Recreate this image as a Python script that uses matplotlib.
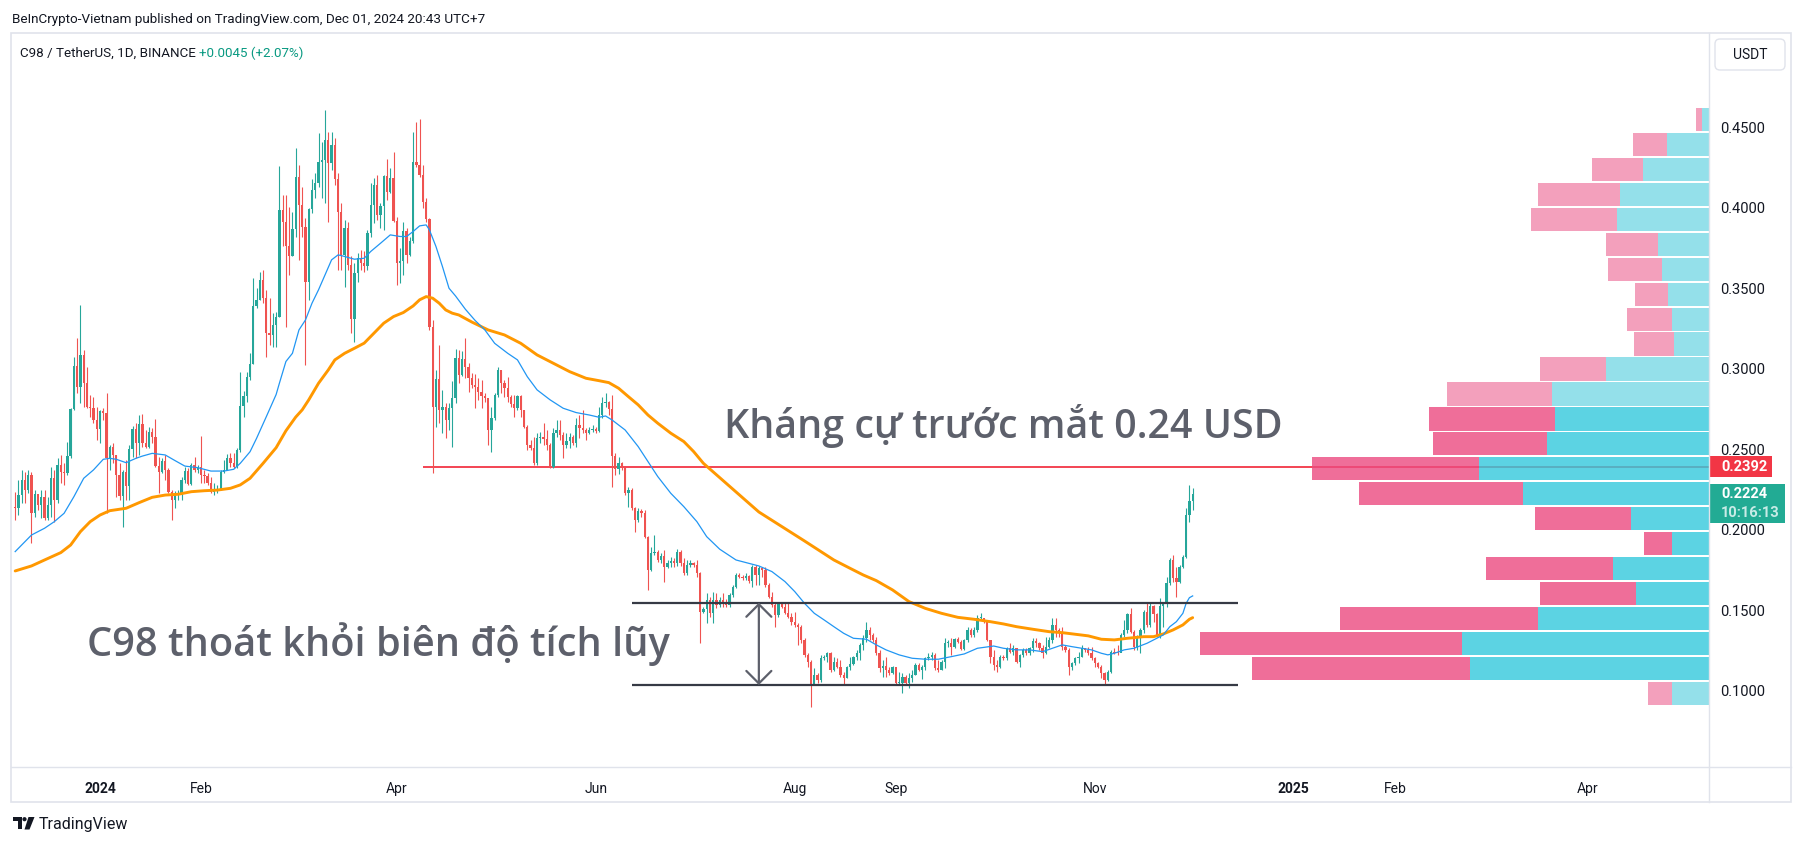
import numpy as np
import pandas as pd
import matplotlib
matplotlib.use("Agg")
import matplotlib.pyplot as plt
import matplotlib.dates as mdates
import matplotlib.transforms as mtransforms
from matplotlib.patches import Rectangle, FancyBboxPatch, Polygon, Circle
from matplotlib.lines import Line2D

plt.rcParams['font.family'] = ['Roboto', 'DejaVu Sans']

# === C98 / USDT daily candles, 2023-12-06 .. 2024-12-01 (open = previous close) ===
first_open = 0.2140

close_dec = [0.2134, 0.2216, 0.2310, 0.2247, 0.2341, 0.2103, 0.2223, 0.2154, 0.2206, 0.2072, 0.2154, 0.2320, 0.2185,
             0.2403, 0.2361, 0.2351, 0.2458, 0.2748, 0.3017, 0.2889, 0.3085, 0.2914, 0.2761, 0.2756, 0.2682, 0.2624]
high_dec = [0.2237, 0.2310, 0.2372, 0.2361, 0.2372, 0.2361, 0.2247, 0.2185, 0.2247, 0.2247, 0.2206, 0.2392, 0.2372,
            0.2444, 0.2465, 0.2413, 0.2543, 0.2754, 0.3071, 0.3189, 0.3396, 0.3116, 0.3013, 0.2837, 0.2827, 0.2765]
low_dec = [0.2061, 0.2092, 0.2165, 0.2165, 0.2231, 0.1916, 0.2082, 0.2123, 0.2072, 0.2061, 0.2061, 0.2082, 0.2051,
           0.2165, 0.2289, 0.2279, 0.2341, 0.2444, 0.2744, 0.2847, 0.2785, 0.2765, 0.2754, 0.2703, 0.2661, 0.2558]

close_jan = [0.2738, 0.2723, 0.2444, 0.2516, 0.2465, 0.2341, 0.2210, 0.2361, 0.2272, 0.2502, 0.2626, 0.2537, 0.2657,
             0.2537, 0.2516, 0.2605, 0.2579, 0.2399, 0.2361, 0.2428, 0.2372, 0.2237, 0.2185, 0.2216, 0.2227, 0.2310,
             0.2365, 0.2283, 0.2403, 0.2372, 0.2392]
high_jan = [0.2744, 0.2754, 0.2847, 0.2527, 0.2537, 0.2465, 0.2413, 0.2372, 0.2434, 0.2527, 0.2645, 0.2661, 0.2711,
            0.2719, 0.2620, 0.2641, 0.2630, 0.2686, 0.2454, 0.2444, 0.2465, 0.2382, 0.2247, 0.2243, 0.2247, 0.2330,
            0.2392, 0.2382, 0.2417, 0.2454, 0.2403]
low_jan = [0.2541, 0.2682, 0.2103, 0.2372, 0.2413, 0.2206, 0.2185, 0.2020, 0.2185, 0.2185, 0.2454, 0.2444, 0.2465,
           0.2516, 0.2506, 0.2506, 0.2537, 0.2392, 0.2227, 0.2351, 0.2310, 0.2231, 0.2061, 0.2134, 0.2185, 0.2185,
           0.2289, 0.2279, 0.2279, 0.2361, 0.2351]

close_feb = [0.2341, 0.2334, 0.2289, 0.2237, 0.2243, 0.2247, 0.2361, 0.2372, 0.2444, 0.2413, 0.2392, 0.2496, 0.2769,
             0.2831, 0.2947, 0.3027, 0.3390, 0.3427, 0.3551, 0.3437, 0.3220, 0.3210, 0.3272, 0.3323, 0.3986, 0.3914,
             0.3759, 0.3703, 0.3866]
high_feb = [0.2583, 0.2372, 0.2351, 0.2330, 0.2289, 0.2279, 0.2372, 0.2434, 0.2469, 0.2475, 0.2475, 0.2506, 0.2982,
            0.2864, 0.2982, 0.3096, 0.3561, 0.3500, 0.3600, 0.3613, 0.3489, 0.3437, 0.3344, 0.3354, 0.4259, 0.4079,
            0.4079, 0.4007, 0.3976]
low_feb = [0.2289, 0.2289, 0.2279, 0.2231, 0.2216, 0.2231, 0.2247, 0.2355, 0.2372, 0.2392, 0.2382, 0.2382, 0.2485,
           0.2703, 0.2796, 0.2930, 0.3027, 0.3375, 0.3427, 0.3406, 0.3075, 0.3147, 0.3137, 0.3137, 0.3324, 0.3759,
           0.3258, 0.3583, 0.3697]

close_mar = [0.4189, 0.4017, 0.3879, 0.3541, 0.3990, 0.4110, 0.4152, 0.4286, 0.4297, 0.4421, 0.4280, 0.4390, 0.4176,
             0.3976, 0.3707, 0.3872, 0.3645, 0.3308, 0.3597, 0.3686, 0.3655, 0.3639, 0.3841, 0.4017, 0.4141, 0.3955,
             0.4011, 0.4197, 0.4100, 0.4183, 0.3920]
high_mar = [0.4369, 0.4265, 0.4131, 0.3934, 0.3996, 0.4176, 0.4214, 0.4462, 0.4410, 0.4607, 0.4472, 0.4472, 0.4431,
            0.4214, 0.4028, 0.3924, 0.3914, 0.3697, 0.3655, 0.3717, 0.3738, 0.3728, 0.3862, 0.4152, 0.4183, 0.4203,
            0.4028, 0.4203, 0.4301, 0.4245, 0.4348]
low_mar = [0.3821, 0.3676, 0.3821, 0.3024, 0.3428, 0.3965, 0.4059, 0.4131, 0.4059, 0.4028, 0.3914, 0.4234, 0.4141,
           0.3614, 0.3614, 0.3510, 0.3614, 0.3225, 0.3169, 0.3541, 0.3614, 0.3603, 0.3614, 0.3821, 0.3903, 0.3924,
           0.3872, 0.3862, 0.4048, 0.4090, 0.3914]

close_apr = [0.3655, 0.3672, 0.3858, 0.3707, 0.3790, 0.4286, 0.4265, 0.4203, 0.4038, 0.3928, 0.3258, 0.2765, 0.2935,
             0.2741, 0.2761, 0.2683, 0.2755, 0.2817, 0.3066, 0.2962, 0.3059, 0.3013, 0.2941, 0.2900, 0.2889, 0.2858,
             0.2831, 0.2817, 0.2620, 0.2693]
high_apr = [0.3945, 0.3748, 0.3914, 0.3872, 0.3821, 0.4472, 0.4534, 0.4549, 0.4265, 0.4059, 0.3934, 0.3303, 0.2993,
            0.3148, 0.2869, 0.2786, 0.2786, 0.2921, 0.3121, 0.3117, 0.3113, 0.3189, 0.3034, 0.2972, 0.2968, 0.2941,
            0.2931, 0.2848, 0.2776, 0.2765]
low_apr = [0.3521, 0.3531, 0.3583, 0.3655, 0.3701, 0.3779, 0.4255, 0.4193, 0.3996, 0.3914, 0.3241, 0.2356, 0.2641,
           0.2662, 0.2600, 0.2569, 0.2621, 0.2517, 0.2786, 0.2910, 0.2955, 0.2941, 0.2858, 0.2879, 0.2755, 0.2806,
           0.2755, 0.2796, 0.2527, 0.2486]

close_may = [0.2838, 0.2993, 0.2910, 0.2879, 0.2827, 0.2782, 0.2755, 0.2831, 0.2744, 0.2641, 0.2527, 0.2506, 0.2413,
             0.2569, 0.2575, 0.2562, 0.2527, 0.2393, 0.2600, 0.2620, 0.2589, 0.2527, 0.2554, 0.2579, 0.2538, 0.2651,
             0.2631, 0.2620, 0.2600, 0.2620, 0.2624]
high_may = [0.2848, 0.3013, 0.2993, 0.2931, 0.2951, 0.2838, 0.2838, 0.2838, 0.2838, 0.2744, 0.2651, 0.2558, 0.2579,
            0.2600, 0.2610, 0.2662, 0.2620, 0.2538, 0.2631, 0.2682, 0.2682, 0.2610, 0.2600, 0.2600, 0.2589, 0.2693,
            0.2713, 0.2744, 0.2631, 0.2641, 0.2651]
low_may = [0.2682, 0.2827, 0.2848, 0.2827, 0.2796, 0.2765, 0.2703, 0.2744, 0.2703, 0.2631, 0.2496, 0.2496, 0.2403,
           0.2403, 0.2538, 0.2527, 0.2496, 0.2382, 0.2382, 0.2579, 0.2558, 0.2444, 0.2506, 0.2506, 0.2527, 0.2517,
           0.2569, 0.2600, 0.2558, 0.2596, 0.2610]

close_jun = [0.2616, 0.2713, 0.2786, 0.2796, 0.2749, 0.2459, 0.2376, 0.2418, 0.2382, 0.2227, 0.2248, 0.2134, 0.2062,
             0.2120, 0.2107, 0.1958, 0.1751, 0.1859, 0.1865, 0.1813, 0.1838, 0.1772, 0.1793, 0.1809, 0.1793, 0.1865,
             0.1793, 0.1731, 0.1782, 0.1797]
high_jun = [0.2641, 0.2765, 0.2827, 0.2848, 0.2802, 0.2838, 0.2475, 0.2455, 0.2424, 0.2393, 0.2269, 0.2258, 0.2144,
            0.2134, 0.2128, 0.2124, 0.1962, 0.1896, 0.1969, 0.1876, 0.1859, 0.1876, 0.1813, 0.1834, 0.1824, 0.1880,
            0.1876, 0.1824, 0.1813, 0.1813]
low_jun = [0.2600, 0.2610, 0.2693, 0.2765, 0.2713, 0.2269, 0.2341, 0.2347, 0.2372, 0.2217, 0.2144, 0.2124, 0.1989,
           0.2051, 0.2082, 0.1948, 0.1627, 0.1747, 0.1844, 0.1803, 0.1793, 0.1679, 0.1762, 0.1768, 0.1768, 0.1776,
           0.1776, 0.1720, 0.1720, 0.1768]

close_jul = [0.1782, 0.1731, 0.1493, 0.1507, 0.1565, 0.1482, 0.1565, 0.1534, 0.1565, 0.1544, 0.1534, 0.1596, 0.1644,
             0.1720, 0.1710, 0.1699, 0.1714, 0.1685, 0.1772, 0.1720, 0.1761, 0.1751, 0.1658, 0.1586, 0.1534, 0.1472,
             0.1544, 0.1524, 0.1482, 0.1461, 0.1430]
high_jul = [0.1803, 0.1813, 0.1741, 0.1524, 0.1606, 0.1586, 0.1617, 0.1606, 0.1586, 0.1606, 0.1569, 0.1606, 0.1658,
            0.1730, 0.1735, 0.1720, 0.1730, 0.1720, 0.1782, 0.1782, 0.1776, 0.1768, 0.1768, 0.1668, 0.1617, 0.1555,
            0.1555, 0.1555, 0.1544, 0.1544, 0.1482]
low_jul = [0.1768, 0.1710, 0.1296, 0.1482, 0.1420, 0.1461, 0.1420, 0.1513, 0.1524, 0.1524, 0.1524, 0.1524, 0.1586,
           0.1637, 0.1699, 0.1689, 0.1689, 0.1668, 0.1648, 0.1658, 0.1658, 0.1710, 0.1648, 0.1575, 0.1524, 0.1399,
           0.1461, 0.1513, 0.1478, 0.1451, 0.1410]

close_aug = [0.1410, 0.1399, 0.1317, 0.1224, 0.1182, 0.1037, 0.1099, 0.1068, 0.1203, 0.1209, 0.1234, 0.1130, 0.1182,
             0.1151, 0.1099, 0.1079, 0.1147, 0.1168, 0.1213, 0.1234, 0.1286, 0.1327, 0.1379, 0.1348, 0.1317, 0.1234,
             0.1141, 0.1155, 0.1130, 0.1110, 0.1147]
high_aug = [0.1492, 0.1420, 0.1410, 0.1327, 0.1234, 0.1193, 0.1141, 0.1110, 0.1224, 0.1224, 0.1244, 0.1244, 0.1213,
            0.1203, 0.1193, 0.1120, 0.1155, 0.1213, 0.1217, 0.1255, 0.1296, 0.1348, 0.1430, 0.1399, 0.1358, 0.1337,
            0.1255, 0.1193, 0.1209, 0.1151, 0.1155]
low_aug = [0.1399, 0.1286, 0.1296, 0.1213, 0.1151, 0.0903, 0.1037, 0.1052, 0.1058, 0.1193, 0.1182, 0.1120, 0.1126,
           0.1141, 0.1089, 0.1037, 0.1079, 0.1130, 0.1161, 0.1193, 0.1193, 0.1255, 0.1306, 0.1317, 0.1306, 0.1224,
           0.1120, 0.1089, 0.1089, 0.1099, 0.1106]

close_sep = [0.1048, 0.1048, 0.1089, 0.1048, 0.1079, 0.1099, 0.1161, 0.1130, 0.1147, 0.1203, 0.1213, 0.1224, 0.1141,
             0.1130, 0.1182, 0.1296, 0.1300, 0.1275, 0.1321, 0.1306, 0.1259, 0.1317, 0.1379, 0.1348, 0.1379, 0.1451,
             0.1455, 0.1430, 0.1317, 0.1213]
high_sep = [0.1130, 0.1120, 0.1110, 0.1099, 0.1110, 0.1130, 0.1172, 0.1172, 0.1161, 0.1213, 0.1234, 0.1244, 0.1234,
            0.1193, 0.1193, 0.1327, 0.1317, 0.1327, 0.1327, 0.1333, 0.1317, 0.1321, 0.1399, 0.1389, 0.1399, 0.1472,
            0.1482, 0.1455, 0.1441, 0.1317]
low_sep = [0.1044, 0.1037, 0.0990, 0.1037, 0.1017, 0.1058, 0.1099, 0.1126, 0.1073, 0.1130, 0.1193, 0.1193, 0.1130,
           0.1120, 0.1130, 0.1141, 0.1271, 0.1224, 0.1265, 0.1296, 0.1255, 0.1255, 0.1306, 0.1333, 0.1333, 0.1368,
           0.1441, 0.1420, 0.1313, 0.1172]

close_oct = [0.1161, 0.1147, 0.1213, 0.1203, 0.1265, 0.1244, 0.1265, 0.1182, 0.1224, 0.1255, 0.1238, 0.1265, 0.1313,
             0.1296, 0.1265, 0.1234, 0.1275, 0.1317, 0.1410, 0.1379, 0.1368, 0.1275, 0.1255, 0.1151, 0.1176, 0.1203,
             0.1213, 0.1265, 0.1255, 0.1238, 0.1203]
high_oct = [0.1255, 0.1193, 0.1224, 0.1224, 0.1275, 0.1296, 0.1286, 0.1265, 0.1230, 0.1265, 0.1265, 0.1275, 0.1327,
            0.1331, 0.1306, 0.1286, 0.1337, 0.1337, 0.1451, 0.1451, 0.1389, 0.1399, 0.1286, 0.1265, 0.1182, 0.1213,
            0.1244, 0.1286, 0.1265, 0.1275, 0.1275]
low_oct = [0.1131, 0.1120, 0.1141, 0.1193, 0.1193, 0.1238, 0.1224, 0.1176, 0.1147, 0.1213, 0.1224, 0.1224, 0.1244,
           0.1275, 0.1255, 0.1203, 0.1230, 0.1265, 0.1296, 0.1337, 0.1337, 0.1255, 0.1244, 0.1099, 0.1131, 0.1161,
           0.1172, 0.1209, 0.1244, 0.1224, 0.1193]

close_nov = [0.1172, 0.1151, 0.1110, 0.1068, 0.1120, 0.1244, 0.1238, 0.1234, 0.1348, 0.1379, 0.1478, 0.1368, 0.1275,
             0.1337, 0.1379, 0.1493, 0.1410, 0.1528, 0.1478, 0.1348, 0.1528, 0.1544, 0.1668, 0.1813, 0.1699, 0.1679,
             0.1772, 0.1834, 0.2093, 0.2179, 0.2224]
high_nov = [0.1213, 0.1182, 0.1161, 0.1120, 0.1131, 0.1255, 0.1265, 0.1286, 0.1358, 0.1441, 0.1482, 0.1513, 0.1379,
            0.1348, 0.1389, 0.1503, 0.1555, 0.1544, 0.1534, 0.1482, 0.1575, 0.1555, 0.1706, 0.1824, 0.1844, 0.1772,
            0.1782, 0.1844, 0.2134, 0.2279, 0.2258]
low_nov = [0.1151, 0.1141, 0.1079, 0.1044, 0.1064, 0.1110, 0.1230, 0.1224, 0.1244, 0.1337, 0.1358, 0.1358, 0.1255,
           0.1255, 0.1238, 0.1358, 0.1399, 0.1399, 0.1430, 0.1337, 0.1327, 0.1399, 0.1524, 0.1658, 0.1679, 0.1586,
           0.1668, 0.1761, 0.1824, 0.2051, 0.2124]

# === Moving averages (days since 2024-01-01, value) ===
ma_fast_days = [-26, -21, -17, -14, -11, -8, -5, -2, 1, 3, 5, 8, 11, 13, 16, 20, 23, 26, 30, 34, 38, 41, 43, 46, 48,
                51, 54, 55, 57, 59, 61, 63, 65, 67, 69, 71, 73, 75, 78, 81, 83, 86, 89, 92, 94, 96, 98, 100, 101,
                103, 105, 107, 109, 112, 115, 118, 121, 125, 128, 131, 134, 138, 142, 146, 150, 153, 155, 157, 161,
                165, 168, 171, 175, 179, 183, 186, 190, 195, 202, 206, 210, 213, 216, 219, 222, 225, 228, 231, 235,
                238, 241, 245, 249, 253, 257, 261, 265, 269, 274, 277, 281, 285, 289, 292, 295, 298, 301, 304, 307,
                309, 311, 314, 317, 321, 324, 326, 328, 330, 332, 333, 334, 335]
ma_fast = [0.1865, 0.1968, 0.2010, 0.2051, 0.2103, 0.2206, 0.2320, 0.2372, 0.2438, 0.2444, 0.2438, 0.2417, 0.2444,
           0.2458, 0.2475, 0.2465, 0.2430, 0.2396, 0.2386, 0.2365, 0.2365, 0.2376, 0.2413, 0.2485, 0.2568, 0.2703,
           0.2840, 0.2910, 0.3045, 0.3096, 0.3241, 0.3303, 0.3407, 0.3490, 0.3583, 0.3676, 0.3707, 0.3697, 0.3680,
           0.3686, 0.3728, 0.3779, 0.3831, 0.3821, 0.3821, 0.3852, 0.3887, 0.3893, 0.3862, 0.3759, 0.3634, 0.3500,
           0.3452, 0.3370, 0.3300, 0.3241, 0.3158, 0.3096, 0.3055, 0.2951, 0.2869, 0.2807, 0.2755, 0.2728, 0.2713,
           0.2699, 0.2707, 0.2682, 0.2620, 0.2517, 0.2424, 0.2331, 0.2227, 0.2144, 0.2051, 0.1958, 0.1880, 0.1813,
           0.1776, 0.1741, 0.1679, 0.1617, 0.1544, 0.1482, 0.1441, 0.1399, 0.1358, 0.1327, 0.1321, 0.1286, 0.1255,
           0.1224, 0.1203, 0.1197, 0.1197, 0.1213, 0.1230, 0.1265, 0.1279, 0.1265, 0.1255, 0.1255, 0.1244, 0.1265,
           0.1286, 0.1275, 0.1265, 0.1255, 0.1234, 0.1224, 0.1234, 0.1255, 0.1265, 0.1296, 0.1327, 0.1348, 0.1399,
           0.1430, 0.1482, 0.1544, 0.1579, 0.1590]

ma_slow_days = [-26, -21, -17, -12, -9, -6, -3, 0, 3, 8, 12, 16, 20, 24, 28, 32, 36, 40, 43, 46, 50, 54, 57, 60, 62,
                64, 67, 70, 72, 75, 78, 81, 84, 87, 90, 93, 96, 98, 100, 102, 104, 106, 108, 110, 114, 119, 124, 129,
                134, 139, 144, 149, 153, 156, 159, 162, 165, 168, 171, 175, 179, 182, 185, 202, 216, 225, 230, 234,
                238, 243, 248, 253, 258, 263, 268, 273, 277, 281, 286, 291, 295, 299, 303, 307, 311, 315, 320, 323,
                326, 329, 332, 334, 335]
ma_slow = [0.1745, 0.1776, 0.1813, 0.1859, 0.1906, 0.1989, 0.2051, 0.2092, 0.2119, 0.2134, 0.2169, 0.2202, 0.2216,
           0.2221, 0.2237, 0.2243, 0.2247, 0.2258, 0.2279, 0.2320, 0.2413, 0.2510, 0.2615, 0.2700, 0.2745, 0.2807,
           0.2910, 0.2993, 0.3055, 0.3096, 0.3127, 0.3159, 0.3221, 0.3283, 0.3324, 0.3349, 0.3390, 0.3428, 0.3448,
           0.3438, 0.3407, 0.3365, 0.3345, 0.3334, 0.3290, 0.3241, 0.3210, 0.3158, 0.3086, 0.3034, 0.2982, 0.2941,
           0.2926, 0.2914, 0.2879, 0.2827, 0.2776, 0.2713, 0.2662, 0.2600, 0.2548, 0.2486, 0.2413, 0.2111, 0.1931,
           0.1813, 0.1761, 0.1720, 0.1685, 0.1627, 0.1555, 0.1513, 0.1482, 0.1457, 0.1445, 0.1430, 0.1416, 0.1399,
           0.1383, 0.1368, 0.1362, 0.1352, 0.1342, 0.1321, 0.1317, 0.1327, 0.1337, 0.1337, 0.1354, 0.1379, 0.1410,
           0.1445, 0.1455]

# === Visible-range volume profile (24 rows, bottom to top) ===
vp_bottom, vp_top = 0.0907, 0.4625
vp_down = [24, 216, 260, 197, 95, 127, 28, 95, 163, 166, 113, 125, 105, 66, 40, 45, 33, 53, 51, 86, 81, 50, 34, 6]
vp_up = [37, 238, 246, 170, 73, 95, 37, 78, 185, 229, 161, 153, 156, 102, 35, 37, 41, 47, 51, 91, 89, 66, 42, 7]
value_area_rows = range(1, 12)

# === Drawn levels ===
resistance = 0.2392
resistance_from = "2024-04-09"
range_top, range_bottom = 0.1548, 0.1037
range_from, range_to = "2024-06-12", "2024-12-15"
arrow_date = "2024-07-21"
change_abs, change_pct = 0.0045, 2.07
countdown = "10:16:13"

month_ticks = ["2024-01-01", "2024-02-01", "2024-04-01", "2024-06-01", "2024-08-01", "2024-09-01", "2024-11-01",
               "2025-01-01", "2025-02-01", "2025-04-01"]
month_labels = ["2024", "Feb", "Apr", "Jun", "Aug", "Sep", "Nov", "2025", "Feb", "Apr"]

GREEN = "#26a69a"
RED = "#ef5350"
LINE_RED = "#f23645"
TEXT = "#131722"
GREY_TXT = "#5d606b"
BORDER = "#e0e3eb"

close = np.array(close_dec + close_jan + close_feb + close_mar + close_apr + close_may + close_jun + close_jul +
                 close_aug + close_sep + close_oct + close_nov)
high = np.array(high_dec + high_jan + high_feb + high_mar + high_apr + high_may + high_jun + high_jul +
                high_aug + high_sep + high_oct + high_nov)
low = np.array(low_dec + low_jan + low_feb + low_mar + low_apr + low_may + low_jun + low_jul +
               low_aug + low_sep + low_oct + low_nov)
opens = np.r_[first_open, close[:-1]]

dates = pd.date_range("2023-12-06", periods=len(close), freq="D")
xs = mdates.date2num(dates)
base = mdates.date2num(pd.Timestamp("2024-01-01"))

W, H = 1804, 846
fig = plt.figure(figsize=(W / 100, H / 100), dpi=100)
fig.patch.set_facecolor("white")

# main price pane: 13..1709 px wide, 34..767 px tall
ax = fig.add_axes([13 / W, 1 - 767 / H, (1709 - 13) / W, (767 - 34) / H])
ax.set_xlim(base - 26.67, base + 493.3)
ax.set_ylim(0.0528, 0.5078)
for s in ax.spines.values():
    s.set_visible(False)

# --- candles ---
up = close >= opens
cols = np.where(up, GREEN, RED)
ax.vlines(xs, low, high, colors=cols, linewidth=0.8, zorder=3)
body_lo = np.minimum(opens, close)
body_h = np.maximum(np.abs(close - opens), 0.0006)
ax.bar(xs, body_h, bottom=body_lo, width=0.7, color=cols, linewidth=0, zorder=3)

# --- moving averages ---
ax.plot(base + np.array(ma_slow_days), ma_slow, color="#ff9800", linewidth=2.1, zorder=4,
        solid_capstyle="round")
ax.plot(base + np.array(ma_fast_days), ma_fast, color="#2196f3", linewidth=0.9, zorder=4)

# --- resistance ray ---
x_right = ax.get_xlim()[1]
ax.hlines(resistance, mdates.date2num(pd.Timestamp(resistance_from)), x_right,
          color=LINE_RED, linewidth=1.3, zorder=2)

# --- volume profile anchored to the right edge, translucent over the ray ---
vp_trans = mtransforms.blended_transform_factory(ax.transAxes, ax.transData)
rows = len(vp_down)
step = (vp_top - vp_bottom) / rows
totals = np.array(vp_down) + np.array(vp_up)
wscale = 0.30 / totals.max()
gap = 0.0011
for k in range(rows):
    inside = k in value_area_rows
    c_up = "#33c9dc" if inside else "#79d9e5"
    c_dn = "#ec4a80" if inside else "#f188ab"
    y0 = vp_bottom + k * step + gap / 2
    wu = vp_up[k] * wscale
    wd = vp_down[k] * wscale
    ax.add_patch(Rectangle((1 - wu, y0), wu, step - gap, transform=vp_trans,
                           facecolor=c_up, edgecolor="none", alpha=0.8, zorder=2.5))
    ax.add_patch(Rectangle((1 - wu - wd, y0), wd, step - gap, transform=vp_trans,
                           facecolor=c_dn, edgecolor="none", alpha=0.8, zorder=2.5))

# --- accumulation range ---
r0 = mdates.date2num(pd.Timestamp(range_from))
r1 = mdates.date2num(pd.Timestamp(range_to))
ax.hlines([range_top, range_bottom], r0, r1, color="#363a45", linewidth=1.6, zorder=5)
xa = mdates.date2num(pd.Timestamp(arrow_date))
ax.annotate("", xy=(xa, range_bottom), xytext=(xa, range_top),
            arrowprops=dict(arrowstyle="<->,head_length=0.5,head_width=0.5", mutation_scale=18,
                            color=GREY_TXT, linewidth=1.6, shrinkA=0, shrinkB=0), zorder=5)

# --- annotation texts ---
ax.text(base + 191.3, 0.2570, "Kháng cự trước mắt 0.24 USD", fontsize=28.4, family=["Open Sans", "DejaVu Sans"],
        fontweight="semibold", color=GREY_TXT, va="baseline", ha="left", zorder=6)
ax.text(base - 4.0, 0.1217, "C98 thoát khỏi biên độ tích lũy", fontsize=28.6, family=["Open Sans", "DejaVu Sans"],
        fontweight="semibold", color=GREY_TXT, va="baseline", ha="left", zorder=6)

# --- axes ticks ---
ax.yaxis.tick_right()
ax.set_yticks(np.arange(0.10, 0.4501, 0.05))
ax.set_yticklabels([f"{v:.4f}" for v in np.arange(0.10, 0.4501, 0.05)])
ax.tick_params(axis="y", length=0, pad=8, labelsize=10.5, labelcolor=TEXT)
ax.set_xticks([mdates.date2num(pd.Timestamp(d)) for d in month_ticks])
ax.set_xticklabels(month_labels)
ax.tick_params(axis="x", length=0, pad=11, labelsize=10, labelcolor=TEXT)
for lab in ax.get_xticklabels():
    if lab.get_text().isdigit():
        lab.set_fontweight("bold")

# --- last-price and level tags on the price scale ---
tag = mtransforms.blended_transform_factory(fig.transFigure, ax.transData)
px = 1 / 1611  # price per pixel
ax.add_patch(Rectangle((1710 / W, resistance - 10.5 * px), 62 / W, 21 * px, transform=tag,
                       facecolor=LINE_RED, edgecolor="none", clip_on=False, zorder=7))
ax.text(1721 / W, resistance, f"{resistance:.4f}", transform=tag, color="white", fontsize=10.5,
        fontweight="bold", va="center", ha="left", clip_on=False, zorder=8)
last = close[-1]
ax.add_patch(Rectangle((1710 / W, last - 29 * px), 75 / W, 39 * px, transform=tag,
                       facecolor="#22ab94", edgecolor="none", clip_on=False, zorder=7))
ax.text(1721 / W, last, f"{last:.4f}", transform=tag, color="white", fontsize=10.5,
        fontweight="bold", va="center", ha="left", clip_on=False, zorder=8)
ax.text(1721 / W, last - 19 * px, countdown, transform=tag, color="#c8ebe6", fontsize=10.5,
        fontweight="bold", va="center", ha="left", clip_on=False, zorder=8)

# === chrome in pixel coordinates ===
ov = fig.add_axes([0, 0, 1, 1], zorder=10)
ov.set_xlim(0, W)
ov.set_ylim(H, 0)
ov.axis("off")
ov.patch.set_alpha(0)

ov.add_patch(Rectangle((11, 33), 1780, 769, facecolor="none", edgecolor=BORDER, linewidth=1.2))
ov.add_line(Line2D([1709, 1709], [33, 802], color=BORDER, linewidth=1.0))
ov.add_line(Line2D([11, 1791], [767, 767], color=BORDER, linewidth=1.0))
ov.add_patch(FancyBboxPatch((1715, 39), 70, 31, boxstyle="round,pad=0,rounding_size=5",
                            facecolor="white", edgecolor=BORDER, linewidth=1.0))
ov.text(1750, 55, "USDT", ha="center", va="center", fontsize=10, color=TEXT)

ov.text(12, 20, "BeInCrypto-Vietnam published on TradingView.com, Dec 01, 2024 20:43 UTC+7",
        fontsize=9.7, color=TEXT, va="center", ha="left")
ov.text(20, 53, "C98 / TetherUS, 1D, BINANCE", fontsize=9.6, color=TEXT, va="center", ha="left")
ov.text(199, 53, f"+{change_abs:.4f} (+{change_pct:.2f}%)", fontsize=9.6, color="#089981",
        va="center", ha="left")

# TradingView mark and wordmark
ov.add_patch(Polygon([(13, 817), (21.5, 817), (21.5, 829.5), (17.5, 829.5), (17.5, 821), (13, 821)],
                     closed=True, facecolor=TEXT, edgecolor="none"))
ov.add_patch(Circle((24.5, 819.2), 2.1, facecolor=TEXT, edgecolor="none"))
ov.add_patch(Polygon([(28.5, 817), (34.5, 817), (29.5, 829.5), (24.5, 829.5)],
                     closed=True, facecolor=TEXT, edgecolor="none"))
ov.text(39, 824, "TradingView", fontsize=11.5, color=TEXT, va="center", ha="left")

fig.savefig("out.png", dpi=100, facecolor="white")
